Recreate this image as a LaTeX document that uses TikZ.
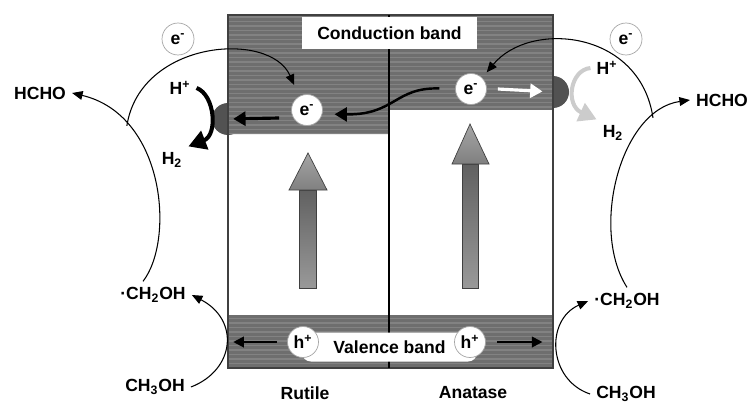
\documentclass[tikz,border=0pt]{standalone}
\usepackage{fontspec}
\setmainfont{Liberation Sans}
\usetikzlibrary{arrows.meta}

\begin{document}
\begin{tikzpicture}[x=0.02cm, y=-0.02cm, every node/.style={font=\bfseries},
  carrier/.style={circle, draw=black!35, fill=white, inner sep=0pt, minimum size=0.62cm},
  bandlabel/.style={fill=white, minimum width=3.5cm, inner sep=2pt},
  cocat/.style={circle, fill=black!68, inner sep=0pt, minimum size=0.64cm},
  thinarrow/.style={semithick, -{Triangle[length=6pt, width=5pt]}},
  bandarrow/.style={line width=1.8pt, -{Triangle[length=7pt, width=8pt]}},
  holearrow/.style={line width=1.1pt, -{Triangle[length=6pt, width=6pt]}},
  bigarrow/.style={line width=2.3pt, -{Triangle[length=10pt, width=11pt]}}]

\useasboundingbox (0,0) rectangle (749,402);

% co-catalyst bumps, half hidden by the bands
\node[cocat] (coCatL) at (228,119) {};
\node[cocat] (coCatR) at (553,92) {};

% conduction bands and valence band
\fill[black!57] (228,15) rectangle (389,134);
\fill[black!57] (389,15) rectangle (553,110);
\fill[black!57] (228,315) rectangle (553,368);
\begin{scope}
  \clip (228,15) rectangle (389,134) (389,15) rectangle (553,110) (228,315) rectangle (553,368);
  \foreach \y in {17,21.5,...,367} {
    \draw[black!49, line width=1pt] (228,\y) -- (553,\y);
  }
\end{scope}

% frame and phase boundary
\draw[black!75, semithick] (228,15) rectangle (553,368);
\draw[semithick] (389,15) -- (389,368);

\node[bandlabel, minimum height=0.64cm] (cb) at (389.5,33) {Conduction band};
\node[bandlabel, minimum height=0.58cm, rounded corners=5pt] (vb) at (389.5,347) {Valence band};

% excitation arrows
\shadedraw[draw=black!75, top color=black!62, bottom color=black!40] (299,190) rectangle (316,288);
\shadedraw[draw=black!75, top color=black!35, bottom color=black!50] (289,190) -- (308,153) -- (327,190) -- cycle;
\shadedraw[draw=black!75, top color=black!62, bottom color=black!40] (462,164) rectangle (478,288);
\shadedraw[draw=black!75, top color=black!35, bottom color=black!50] (452,164) -- (470,124) -- (489,164) -- cycle;

% charge carriers
\node[carrier] (eR) at (307,110) {e\textsuperscript{-}};
\node[carrier] (eA) at (471,89) {e\textsuperscript{-}};
\node[carrier] (hL) at (303,342) {h\textsuperscript{+}};
\node[carrier] (hA) at (470,342) {h\textsuperscript{+}};
\node[carrier, minimum size=0.64cm] (eOutL) at (178,39) {e\textsuperscript{-}};
\node[carrier, minimum size=0.64cm] (eOutR) at (626,39) {e\textsuperscript{-}};

% species
\node (hchoL) at (40,93) {HCHO};
\node (hchoR) at (722,100) {HCHO};
\node (radL) at (153,295) {·CH\textsubscript{2}OH};
\node (radR) at (627,301) {·CH\textsubscript{2}OH};
\node (methL) at (155,387) {CH\textsubscript{3}OH};
\node (methR) at (626,394) {CH\textsubscript{3}OH};
\node (hpL) at (180,88) {H\textsuperscript{+}};
\node (h2L) at (172,160) {H\textsubscript{2}};
\node (hpR) at (607,68) {H\textsuperscript{+}};
\node (h2R) at (613,133) {H\textsubscript{2}};
\node (rutile) at (305,393) {Rutile};
\node (anatase) at (473,393) {Anatase};

% methanol oxidation, rutile side
\draw[thinarrow] (methL.east) .. controls (235,370) and (240,320) .. (radL.east);
\draw[thinarrow] ([xshift=-0.2cm]radL.north) .. controls (175,240) and (165,115) .. (hchoL.east) coordinate[pos=0.75] (jL);
\draw[thinarrow, shorten >=7pt] (jL) .. controls (140,40) and (270,30) .. (eR.120);

% methanol oxidation, anatase side
\draw[thinarrow] (methR.west) .. controls (548,380) and (545,320) .. (radR.west);
\draw[thinarrow] (radR.north) .. controls (590,230) and (620,110) .. (hchoR.west) coordinate[pos=0.8] (jR);
\draw[thinarrow, shorten >=4pt] (jR) .. controls (640,30) and (530,20) .. (eA.north east);

% proton reduction
\draw[bigarrow] (hpL.east) .. controls (215,95) and (218,135) .. (h2L.north east);
\draw[bigarrow, black!20] (hpR.west) .. controls (570,70) and (565,105) .. (h2R.north west);

% electron transfer in the conduction bands
\draw[bandarrow, shorten >=3pt] (eR.west) ++(-12,8) -- (coCatL.center);
\draw[bandarrow, white, shorten >=6pt] (eA.east) ++(11,0) -- (coCatR.center);
\draw[bandarrow, line width=1.4pt, shorten <=9pt, shorten >=7pt] (eA.west) .. controls (395,87) and (395,115) .. (eR.-15);

% hole transfer in the valence band
\coordinate (vbL) at (228,342);
\coordinate (vbR) at (553,342);
\draw[holearrow, shorten >=3pt] (hL.center) ++(-26,0) -- (vbL);
\draw[holearrow, shorten >=6pt] (hA.center) ++(27,0) -- (vbR);

\end{tikzpicture}
\end{document}
